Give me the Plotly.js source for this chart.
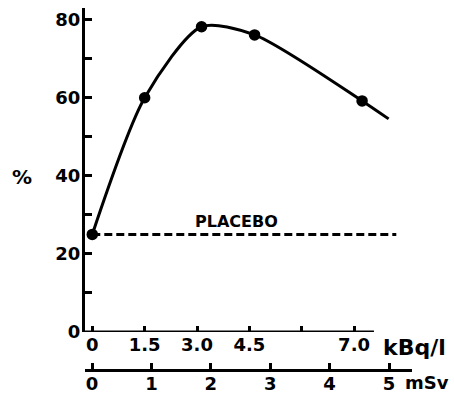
<!DOCTYPE html>
<html>
<head>
<meta charset="utf-8">
<script src="https://cdn.plot.ly/plotly-3.0.1.min.js"></script>
<style>html,body{margin:0;padding:0;background:#fff;}#chart{width:454px;height:394px;}</style>
</head>
<body>
<div id="chart"></div>
<script>
// Data (x in kBq/l axis units as drawn, y in %)
const doseX = [0, 1.5, 3.13, 4.65, 7.73];
const responseY = [25, 60, 78.2, 76.1, 59.2];
const curveX = [0, 1.5, 3.13, 4.65, 7.73, 8.49];
const curveY = [25, 60, 78.2, 76.1, 59.2, 54.6];
const placeboX = [0, 8.71];
const placeboY = [25, 25];
const kbqTickVals = [0, 1.5, 3.0, 4.5, 6.0, 7.5];
const kbqTickText = ['0', '1.5', '3.0', '4.5', '', '7.0'];
const msvTickVals = [0, 1, 2, 3, 4, 5];
const msvTickText = ['0', '1', '2', '3', '4', '5'];
const yTickVals = [0, 10, 20, 30, 40, 50, 60, 70, 80];
const yTickText = ['0', '', '20', '', '40', '', '60', '', '80'];

const FONT = 'DejaVu Sans, Liberation Sans, Arial, sans-serif';
const tickFont = {family: FONT, size: 18, weight: 'bold', color: '#000'};

const traces = [
  {x: placeboX, y: placeboY, mode: 'lines', type: 'scatter',
   line: {color: '#000', width: 3, dash: '8px,4px'}, hoverinfo: 'skip'},
  {x: curveX, y: curveY, mode: 'lines', type: 'scatter',
   line: {color: '#000', width: 3, shape: 'spline', smoothing: 0.75}, hoverinfo: 'skip'},
  {x: doseX, y: responseY, mode: 'markers', type: 'scatter',
   marker: {color: '#000', size: 11.5}, cliponaxis: false, hoverinfo: 'skip'},
  // registers the mSv axis (no visible marks)
  {x: msvTickVals, y: msvTickVals.map(() => null), xaxis: 'x2', yaxis: 'y',
   mode: 'lines', type: 'scatter', line: {width: 0}, hoverinfo: 'skip'}
];

const layout = {
  width: 454, height: 394,
  margin: {l: 85, r: 42, t: 8, b: 24},
  paper_bgcolor: '#fff', plot_bgcolor: '#fff',
  showlegend: false,
  xaxis: {
    range: [-0.209, 9.16], anchor: 'y', showgrid: false, zeroline: false, showline: false,
    tickmode: 'array', tickvals: kbqTickVals, ticktext: kbqTickText,
    ticks: 'inside', ticklen: 6, tickwidth: 3, tickcolor: '#000',
    tickfont: tickFont
  },
  xaxis2: {
    range: [-0.118, 5.387], overlaying: 'x', anchor: 'free', position: 0, side: 'bottom',
    showgrid: false, zeroline: false, showline: true, linewidth: 3, linecolor: '#000',
    tickmode: 'array', tickvals: msvTickVals, ticktext: msvTickText,
    ticks: 'inside', ticklen: 6, tickwidth: 3, tickcolor: '#000',
    tickfont: tickFont, ticklabelstandoff: -4
  },
  yaxis: {
    range: [0, 83], domain: [0.105, 1], anchor: 'x',
    showgrid: false, zeroline: false, showline: true, linewidth: 3, linecolor: '#000',
    tickmode: 'array', tickvals: yTickVals, ticktext: yTickText,
    ticks: 'inside', ticklen: 7, tickwidth: 3, tickcolor: '#000',
    tickfont: tickFont, ticklabelstandoff: -2
  },
  shapes: [
    {type: 'line', xref: 'x', yref: 'y', x0: -0.26, x1: 8.07, y0: 0, y1: 0,
     line: {color: '#000', width: 3}}
  ],
  annotations: [
    {text: '%', xref: 'paper', yref: 'paper', x: -0.193, y: 0.533, xanchor: 'center', yanchor: 'middle',
     showarrow: false, font: {family: FONT, size: 20, weight: 'bold', color: '#000'}},
    {text: 'kBq/l', xref: 'paper', yref: 'paper', x: 0.905, y: 0.0635, xanchor: 'left', yanchor: 'middle',
     showarrow: false, font: {family: FONT, size: 22, weight: 'bold', color: '#000'}},
    {text: 'mSv', xref: 'paper', yref: 'paper', x: 1.116, y: -0.035, xanchor: 'right', yanchor: 'middle',
     showarrow: false, borderpad: 0, font: {family: FONT, size: 18, weight: 'bold', color: '#000'}},
    {text: 'PLACEBO', xref: 'x', yref: 'y', x: 4.14, y: 28.4, xanchor: 'center', yanchor: 'middle',
     showarrow: false, font: {family: FONT, size: 16, weight: 'bold', color: '#000'}}
  ]
};

Plotly.newPlot('chart', traces, layout, {staticPlot: true, displayModeBar: false});
</script>
</body>
</html>
